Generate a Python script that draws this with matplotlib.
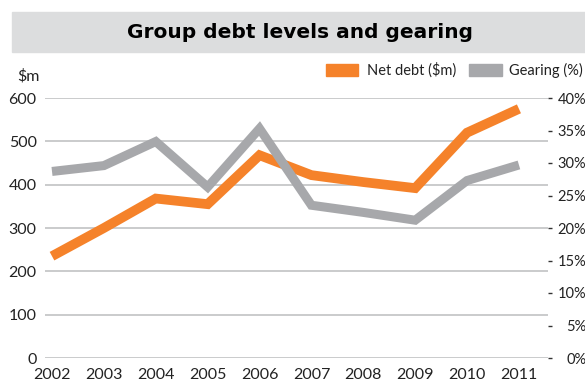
import matplotlib.pyplot as plt
from matplotlib.patches import Rectangle

years = [2002, 2003, 2004, 2005, 2006, 2007, 2008, 2009, 2010, 2011]
net_debt = [235, 300, 368, 355, 468, 422, 406, 392, 520, 575]
gearing = [28.7, 29.6, 33.3, 26.3, 35.3, 23.5, 22.4, 21.2, 27.3, 29.7]
left_ticks = [0, 100, 200, 300, 400, 500, 600]
right_ticks = [0, 5, 10, 15, 20, 25, 30, 35, 40]

orange = '#F5822A'
grey = '#A7A8AB'
txt = '#222222'

plt.rcParams['font.family'] = ['Lato', 'DejaVu Sans']

fig = plt.figure(figsize=(5.85, 3.83), dpi=100)

# title band
fig.patches.append(Rectangle((12 / 585, 1 - 52 / 383), 1, 40 / 383,
                             transform=fig.transFigure, color='#DCDDDE', zorder=0))
fig.text(300 / 585, 1 - 32 / 383, 'Group debt levels and gearing', ha='center', va='center',
         fontsize=14.5, fontweight='black', family='DejaVu Sans', color='black')

ax = fig.add_axes([45 / 585, 25 / 383, 503 / 585, 260 / 383])
ax.set_xlim(2001.865, 2011.56)
ax.set_ylim(0, 600)
ax.set_yticks(left_ticks)
ax.set_xticks(years)
ax.grid(axis='y', color='#C6C7C8', linewidth=1.3)
ax.set_axisbelow(True)
for s in ax.spines.values():
    s.set_visible(False)
ax.tick_params(axis='both', length=0, labelsize=11.5, colors=txt)
ax.tick_params(axis='x', pad=7)
ax.tick_params(axis='y', pad=6)
ax.plot(years, net_debt, color=orange, linewidth=7, solid_joinstyle='miter',
        solid_capstyle='butt', label='Net debt ($m)')

ax2 = ax.twinx()
ax2.set_ylim(0, 40)
ax2.set_yticks(right_ticks)
ax2.set_yticklabels([f'{t}%' for t in right_ticks])
for s in ax2.spines.values():
    s.set_visible(False)
ax2.tick_params(axis='y', length=3, width=1, color='#333333', labelsize=10.5,
                labelcolor=txt, pad=24.5)
for lab in ax2.get_yticklabels():
    lab.set_ha('right')
ax2.plot(years, gearing, color=grey, linewidth=6.5, solid_joinstyle='miter',
         solid_capstyle='butt', label='Gearing (%)')

fig.text(17 / 585, 1 - 76 / 383, '$m', ha='left', va='center', fontsize=11.5, color=txt)

# legend
fig.patches.append(Rectangle((326 / 585, 1 - 76 / 383), 32 / 585, 12 / 383,
                             transform=fig.transFigure, color=orange))
fig.text(367 / 585, 1 - 70 / 383, 'Net debt ($m)', ha='left', va='center', fontsize=10.5, color=txt)
fig.patches.append(Rectangle((469 / 585, 1 - 76 / 383), 33 / 585, 12 / 383,
                             transform=fig.transFigure, color=grey))
fig.text(509 / 585, 1 - 70 / 383, 'Gearing (%)', ha='left', va='center', fontsize=10.5, color=txt)

fig.savefig('out.png', dpi=100)
